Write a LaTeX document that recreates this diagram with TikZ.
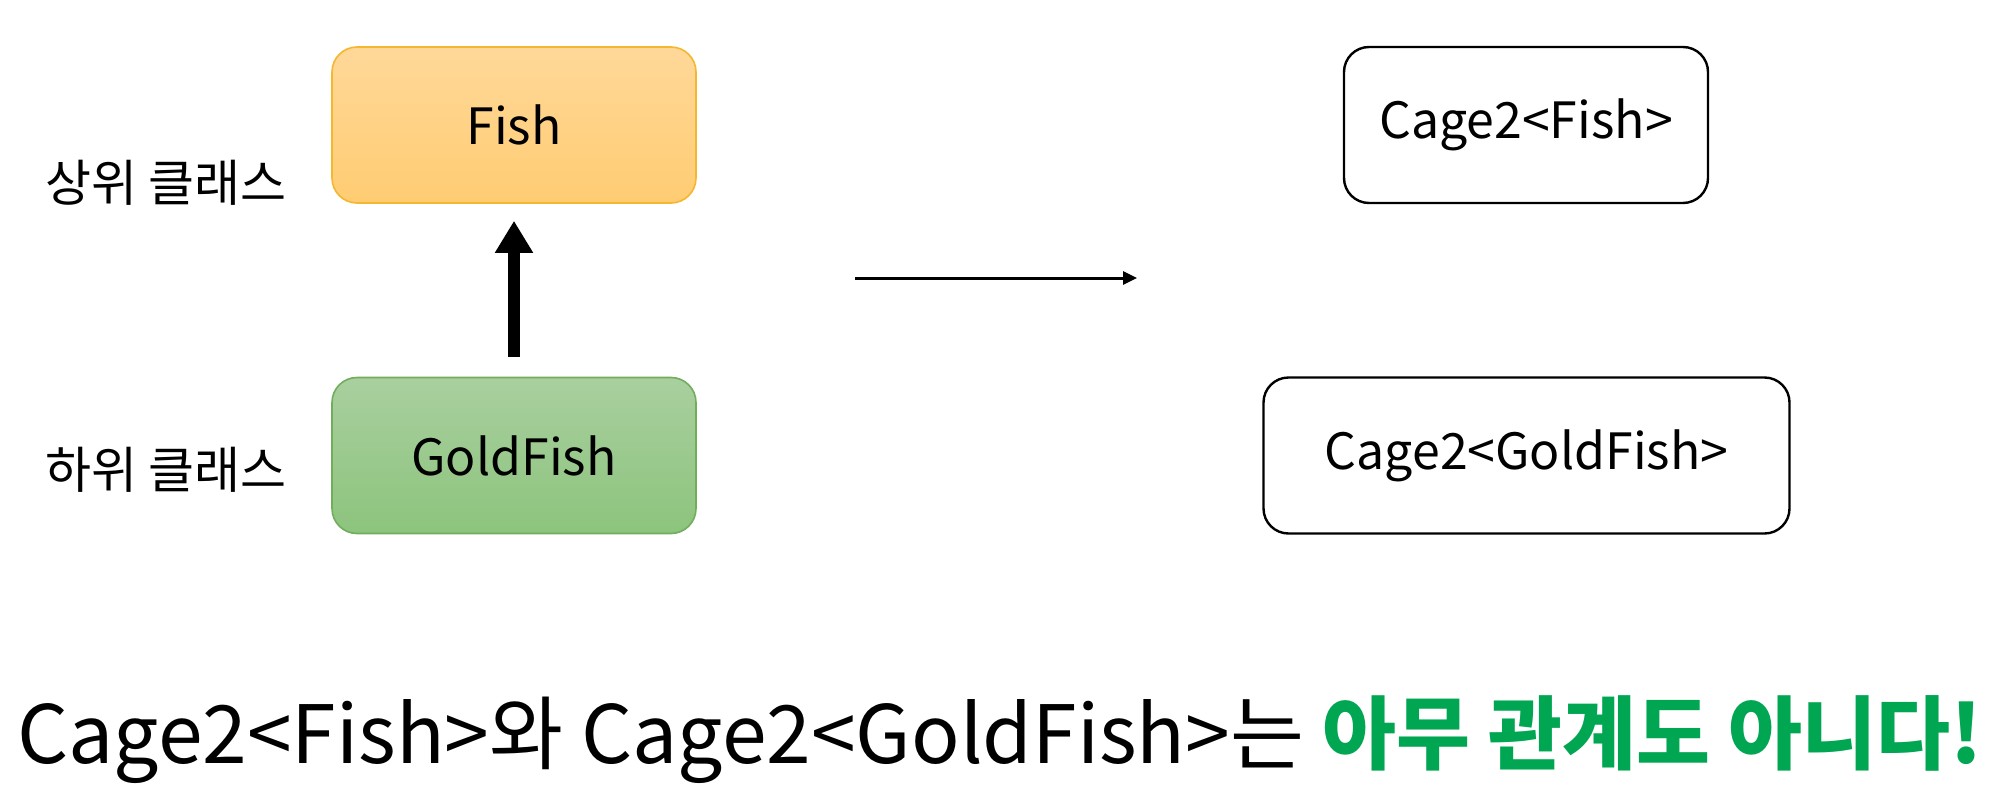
\documentclass[tikz,border=0pt]{standalone}
\usepackage{fontspec}
\setmainfont{Noto Sans CJK KR}
\usetikzlibrary{arrows.meta}
\definecolor{orTop}{HTML}{FFD899}
\definecolor{orBot}{HTML}{FFCC72}
\definecolor{orLine}{HTML}{F5B630}
\definecolor{grTop}{HTML}{A9CF9F}
\definecolor{grBot}{HTML}{8CC47D}
\definecolor{grLine}{HTML}{72AD5C}
\definecolor{hiGreen}{HTML}{00A651}
\tikzset{
  classbox/.style={rounded corners=12.5pt, minimum height=78pt, font=\fontsize{25}{30}\selectfont, inner sep=0pt, line width=0.8pt},
  cagebox/.style={rounded corners=12.5pt, minimum height=78pt, draw=black, line width=1.2pt, font=\fontsize{25}{30}\selectfont, inner sep=0pt},
  sidelabel/.style={font=\fontsize{25}{30}\selectfont, inner sep=0pt},
  inherit/.style={line width=6pt, -{Triangle[width=18pt,length=16pt]}},
  thinarrow/.style={line width=1.5pt, -{Triangle[width=6.5pt,length=7pt]}}
}
\begin{document}
\begin{tikzpicture}[x=0.5pt,y=-0.5pt]
\useasboundingbox (0,0) rectangle (2000,808);
\node[classbox, minimum width=182pt, top color=orTop, bottom color=orBot, draw=orLine] (fish) at (514,125) {Fish};
\node[classbox, minimum width=182pt, top color=grTop, bottom color=grBot, draw=grLine] (gold) at (514,455.5) {GoldFish};
\node[cagebox, minimum width=182pt] (cfish) at (1526,125) {Cage2<Fish>};
\node[cagebox, minimum width=263pt] (cgold) at (1526.5,455.5) {Cage2<GoldFish>};
\node[sidelabel] (sup) at (166,183) {상위 클래스};
\node[sidelabel] (sub) at (166,470) {하위 클래스};
\draw[inherit, shorten <=10pt, shorten >=8.5pt] (gold.north) -- (fish.south);
\coordinate (a1) at (855,278);
\coordinate (a2) at (1137,278);
\draw[thinarrow] (a1) -- (a2);
\node[anchor=base west, inner sep=0pt, font=\fontsize{40.2}{48}\selectfont] (msg) at (17,763) {Cage2<Fish>와 Cage2<GoldFish>는 \textcolor{hiGreen}{\textbf{아무 관계도 아니다!}}};
\end{tikzpicture}
\end{document}
